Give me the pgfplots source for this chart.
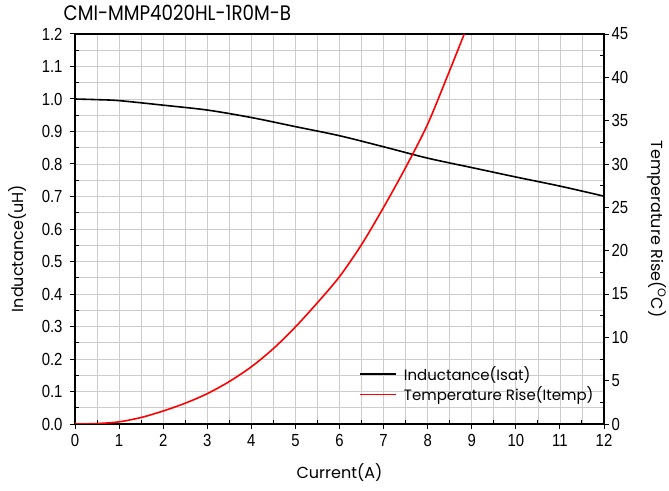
\documentclass[border=0pt]{standalone}
\usepackage{pgfplots}
\pgfplotsset{compat=1.18}
\usepackage{fontspec}
\setmainfont{Liberation Sans}
\newfontfamily\tickfont[FakeStretch=0.85]{Liberation Sans}
\newfontfamily\gothic{Poppins}
\newfontfamily\titlefont[FakeStretch=0.87]{Poppins}

\pgfplotsset{
  base/.style={
    width=529bp, height=390bp, scale only axis,
    xmin=0, xmax=12,
    /pgf/number format/assume math mode=true,
    tick label style={font=\tickfont\fontsize{17.5bp}{19bp}\selectfont},
    label style={font=\gothic\fontsize{16bp}{18bp}\selectfont},
    tick align=inside,
    major tick length=-5bp,
    minor tick length=4bp,
    axis line style={line width=1.1pt},
    tick style={line width=1pt, black},
  }
}

\begin{document}
\begin{tikzpicture}
\begin{axis}[base, name=main,
    ymin=0, ymax=1.2,
    xtick distance=1, minor x tick num=1,
    ytick distance=0.1, minor y tick num=1,
    xtick pos=bottom, ytick pos=left,
    grid=both,
    major grid style={gray!40, line width=0.7bp},
    minor grid style={gray!40, line width=0.7bp},
    xticklabel style={yshift=-7bp},
    yticklabel style={xshift=-9bp, /pgf/number format/.cd, fixed, fixed zerofill, precision=1},
    xlabel={Current(A)},
    xlabel style={at={(axis description cs:0.5,-0.1256)}, anchor=center},
    ylabel={Inductance(uH)},
    ylabel style={at={(axis description cs:-0.108,0.45)}, anchor=center},
    title={CMI-MMP4020HL-1R0M-B},
    title style={at={(axis description cs:-0.028,1.018)}, anchor=base west,
      font=\titlefont\fontsize{21bp}{24bp}\selectfont},
]
\addplot[black, line width=1.6pt, smooth] coordinates {
  (0,1.000) (0.5,0.998) (1,0.995) (2,0.981) (3,0.966) (4,0.943) (5,0.915)
  (6,0.887) (7,0.853) (8,0.818) (9,0.789) (10,0.760) (11,0.732) (12,0.701)
};
\end{axis}
\begin{axis}[base,
    ymin=0, ymax=45,
    axis x line=none, axis y line*=right,
    ytick distance=5, minor y tick num=1,
    yticklabel style={xshift=4bp},
    ylabel={Temperature Rise(\textsuperscript{O}C)},
    ylabel style={at={(axis description cs:1.100,0.5)}, anchor=center, rotate=180},
    legend style={at={(0.99,0.045)}, anchor=south east, draw=none, fill=none,
      font=\gothic\fontsize{15bp}{17bp}\selectfont, row sep=1bp,
      /tikz/every odd column/.append style={column sep=5bp}},
    legend cell align=left,
    legend image code/.code={\draw[#1] (0bp,0bp) -- (36bp,0bp);},
]
\addlegendimage{black, line width=1.6pt}
\addlegendentry{Inductance(Isat)}
\addplot[red, line width=1.6pt, smooth] coordinates {
  (0,0) (0.5,0.05) (1,0.25) (1.5,0.75) (2,1.5) (2.5,2.4) (3,3.5) (3.5,4.9)
  (4,6.6) (4.5,8.7) (5,11.2) (5.5,14.0) (6,17.0) (6.5,20.7) (7,25.0)
  (7.5,29.6) (8,34.6) (8.5,40.8) (8.83,45)
};
\addlegendentry{Temperature Rise(Itemp)}
\end{axis}
\pgfresetboundingbox
\path ([shift={(-75bp,-67bp)}]main.south west) rectangle ([shift={(65bp,34bp)}]main.north east);
\end{tikzpicture}
\end{document}
